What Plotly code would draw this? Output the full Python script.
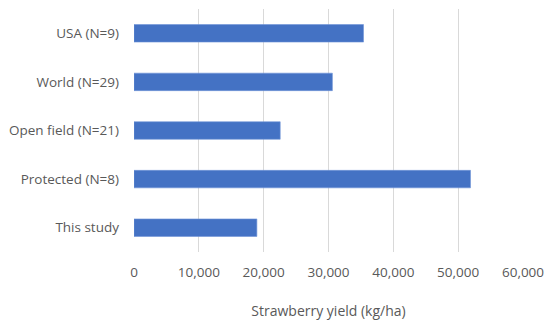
import plotly.graph_objects as go

categories = ["USA (N=9)", "World (N=29)", "Open field (N=21)", "Protected (N=8)", "This study"]
yields = [35400, 30600, 22550, 51900, 18950]
x_ticks = [0, 10000, 20000, 30000, 40000, 50000, 60000]
x_tick_labels = ["0", "10,000", "20,000", "30,000", "40,000", "50,000", "60,000"]

font_family = "Open Sans"
grey = "#595959"

fig = go.Figure(go.Bar(
    x=yields, y=categories, orientation="h",
    marker=dict(color="#4472C4", line=dict(color="#6f93d6", width=0.6)),
))

fig.update_layout(
    width=550, height=324,
    margin=dict(l=134, r=27, t=9, b=72),
    paper_bgcolor="white", plot_bgcolor="white",
    bargap=0.64,
    showlegend=False,
    font=dict(family=font_family, size=13.5, color=grey),
)
fig.update_xaxes(
    range=[0, 60000], tickvals=x_ticks, ticktext=x_tick_labels,
    showgrid=True, gridcolor="#d9d9d9", gridwidth=1,
    zeroline=False, showline=False, automargin=False,
    ticks="", ticklabelstandoff=10,
    title=dict(text="Strawberry yield (kg/ha)", standoff=26, font=dict(size=14, color=grey)),
)
fig.update_yaxes(
    categoryorder="array", categoryarray=categories[::-1],
    showgrid=False, zeroline=False, showline=False, automargin=False,
    ticks="", ticklabelstandoff=14,
)

fig.write_html("out.html", config={"displayModeBar": False},
               post_script="document.body.style.margin='0';document.body.style.overflow='hidden';")
